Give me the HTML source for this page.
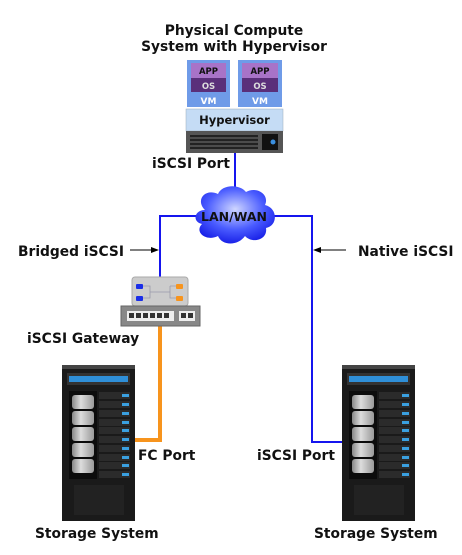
<!DOCTYPE html>
<html><head><meta charset="utf-8"><style>
html,body{margin:0;padding:0;background:#fff;}
svg{display:block;}
text{font-family:"DejaVu Sans","Liberation Sans",sans-serif;font-weight:bold;font-size:13.8px;fill:#111;}
</style></head><body>
<svg width="462" height="555" viewBox="0 0 462 555" xmlns="http://www.w3.org/2000/svg">
<defs>
<radialGradient id="cl" cx="50%" cy="40%" r="60%"><stop offset="0" stop-color="#cfd6ff"/><stop offset="0.6" stop-color="#4a5cff"/><stop offset="1" stop-color="#1a22e8"/></radialGradient>
<linearGradient id="cyl" x1="0" x2="1"><stop offset="0" stop-color="#888"/><stop offset="0.4" stop-color="#ddd"/><stop offset="1" stop-color="#999"/></linearGradient>
<g id="stor">
<rect x="0" y="0" width="73" height="156" fill="#1a1a1a"/>
<rect x="0" y="0" width="73" height="4" fill="#444"/>
<rect x="5" y="8" width="63" height="12" fill="#333"/>
<rect x="7" y="11" width="59" height="6" fill="#2f8fd8"/>
<rect x="7" y="26" width="28" height="88" fill="#0c0c0c"/>
<g fill="url(#cyl)">
<rect x="10" y="30" width="22" height="14" rx="3"/><rect x="10" y="46" width="22" height="14" rx="3"/><rect x="10" y="62" width="22" height="14" rx="3"/><rect x="10" y="78" width="22" height="14" rx="3"/><rect x="10" y="94" width="22" height="14" rx="3"/>
</g>
<g fill="#2b2b2b">
<rect x="37" y="27" width="31" height="7"/><rect x="37" y="36" width="31" height="7"/><rect x="37" y="45" width="31" height="7"/><rect x="37" y="54" width="31" height="7"/><rect x="37" y="62" width="31" height="7"/><rect x="37" y="71" width="31" height="7"/><rect x="37" y="80" width="31" height="7"/><rect x="37" y="89" width="31" height="7"/><rect x="37" y="97" width="31" height="7"/><rect x="37" y="106" width="31" height="7"/>
</g>
<g fill="#3aa0e0">
<rect x="60" y="29" width="7" height="3"/><rect x="60" y="38" width="7" height="3"/><rect x="60" y="47" width="7" height="3"/><rect x="60" y="56" width="7" height="3"/><rect x="60" y="64" width="7" height="3"/><rect x="60" y="73" width="7" height="3"/><rect x="60" y="82" width="7" height="3"/><rect x="60" y="91" width="7" height="3"/><rect x="60" y="99" width="7" height="3"/><rect x="60" y="108" width="7" height="3"/>
</g>
<rect x="12" y="120" width="50" height="30" fill="#222"/>
</g>
</defs>

<text x="234" y="35" text-anchor="middle">Physical Compute</text>
<text x="234" y="51" text-anchor="middle">System with Hypervisor</text>

<rect x="187" y="60" width="43" height="47" fill="#6f9be8"/>
<rect x="191" y="63" width="35" height="15" fill="#a873c8"/>
<rect x="191" y="78" width="35" height="14" fill="#5a2f7a"/>
<rect x="238" y="60" width="44" height="47" fill="#6f9be8"/>
<rect x="242" y="63" width="36" height="15" fill="#a873c8"/>
<rect x="242" y="78" width="36" height="14" fill="#5a2f7a"/>
<g style="font-size:8.5px">
<text x="208.5" y="74" text-anchor="middle" style="font-size:8.5px">APP</text>
<text x="208.5" y="89" text-anchor="middle" style="fill:#ddd;font-size:8.5px">OS</text>
<text x="208.5" y="104" text-anchor="middle" style="fill:#fff;font-size:9px">VM</text>
<text x="260" y="74" text-anchor="middle" style="font-size:8.5px">APP</text>
<text x="260" y="89" text-anchor="middle" style="fill:#ddd;font-size:8.5px">OS</text>
<text x="260" y="104" text-anchor="middle" style="fill:#fff;font-size:9px">VM</text>
</g>
<rect x="186" y="109" width="97" height="22" fill="#c5dcf5" stroke="#9ab" stroke-width="0.5"/>
<text x="234.5" y="124" text-anchor="middle" style="font-size:11.5px">Hypervisor</text>
<rect x="186" y="131" width="97" height="22" fill="#555"/>
<rect x="190" y="135" width="68" height="14" fill="#222"/>
<g stroke="#777" stroke-width="1"><line x1="190" y1="138" x2="258" y2="138"/><line x1="190" y1="142" x2="258" y2="142"/><line x1="190" y1="146" x2="258" y2="146"/></g>
<rect x="262" y="134" width="16" height="16" fill="#111"/>
<circle cx="273" cy="142" r="2.5" fill="#3a8fe0"/>

<g fill="none" stroke="#1515ee" stroke-width="2">
<line x1="235" y1="153" x2="235" y2="195"/>
<polyline points="200,216 160,216 160,278"/>
<polyline points="268,216 312,216 312,442 342,442"/>
</g>
<polyline points="160,326 160,440 135,440" fill="none" stroke="#f7941d" stroke-width="4"/>

<path d="M205,210 C195,200 205,188 218,194 C222,184 240,184 246,192 C256,186 270,194 265,205 C278,208 278,226 266,228 C268,240 252,244 245,236 C238,246 222,246 218,236 C206,242 194,232 202,224 C192,222 194,210 205,210 Z" fill="url(#cl)"/>
<text x="234" y="221" text-anchor="middle" style="font-size:12.5px">LAN/WAN</text>

<line x1="130" y1="250" x2="152" y2="250" stroke="#000" stroke-width="1"/>
<polygon points="159,250 151,247 151,253" fill="#000"/>
<line x1="320" y1="250" x2="346" y2="250" stroke="#000" stroke-width="1"/>
<polygon points="313,250 321,247 321,253" fill="#000"/>

<rect x="132" y="277" width="56" height="29" rx="3" fill="#ccc" stroke="#aaa"/>
<rect x="136" y="284" width="7" height="5" rx="1" fill="#1a2ee8"/>
<rect x="136" y="296" width="7" height="5" rx="1" fill="#1a2ee8"/>
<rect x="176" y="284" width="7" height="5" rx="1" fill="#f7941d"/>
<rect x="176" y="296" width="7" height="5" rx="1" fill="#f7941d"/>
<path d="M143,286 H150 V298 H143 M150,292 H170 M170,286 V298 H176 M170,286 H176" fill="none" stroke="#99a" stroke-width="0.8"/>
<rect x="121" y="306" width="79" height="20" fill="#888" stroke="#666"/>
<rect x="127" y="311" width="47" height="10" fill="#eee"/>
<g fill="#333"><rect x="129" y="313" width="5" height="5"/><rect x="136" y="313" width="5" height="5"/><rect x="143" y="313" width="5" height="5"/><rect x="150" y="313" width="5" height="5"/><rect x="157" y="313" width="5" height="5"/><rect x="164" y="313" width="5" height="5"/></g>
<rect x="179" y="311" width="16" height="10" fill="#eee"/>
<g fill="#333"><rect x="181" y="313" width="5" height="5"/><rect x="188" y="313" width="5" height="5"/></g>

<text x="152" y="168">iSCSI Port</text>
<text x="18" y="256">Bridged iSCSI</text>
<text x="358" y="256">Native iSCSI</text>
<text x="27" y="343">iSCSI Gateway</text>
<text x="138" y="460">FC Port</text>
<text x="257" y="460">iSCSI Port</text>
<text x="35" y="538">Storage System</text>
<text x="314" y="538">Storage System</text>

<use href="#stor" x="62" y="365"/>
<use href="#stor" x="342" y="365"/>
</svg>
</body></html>
